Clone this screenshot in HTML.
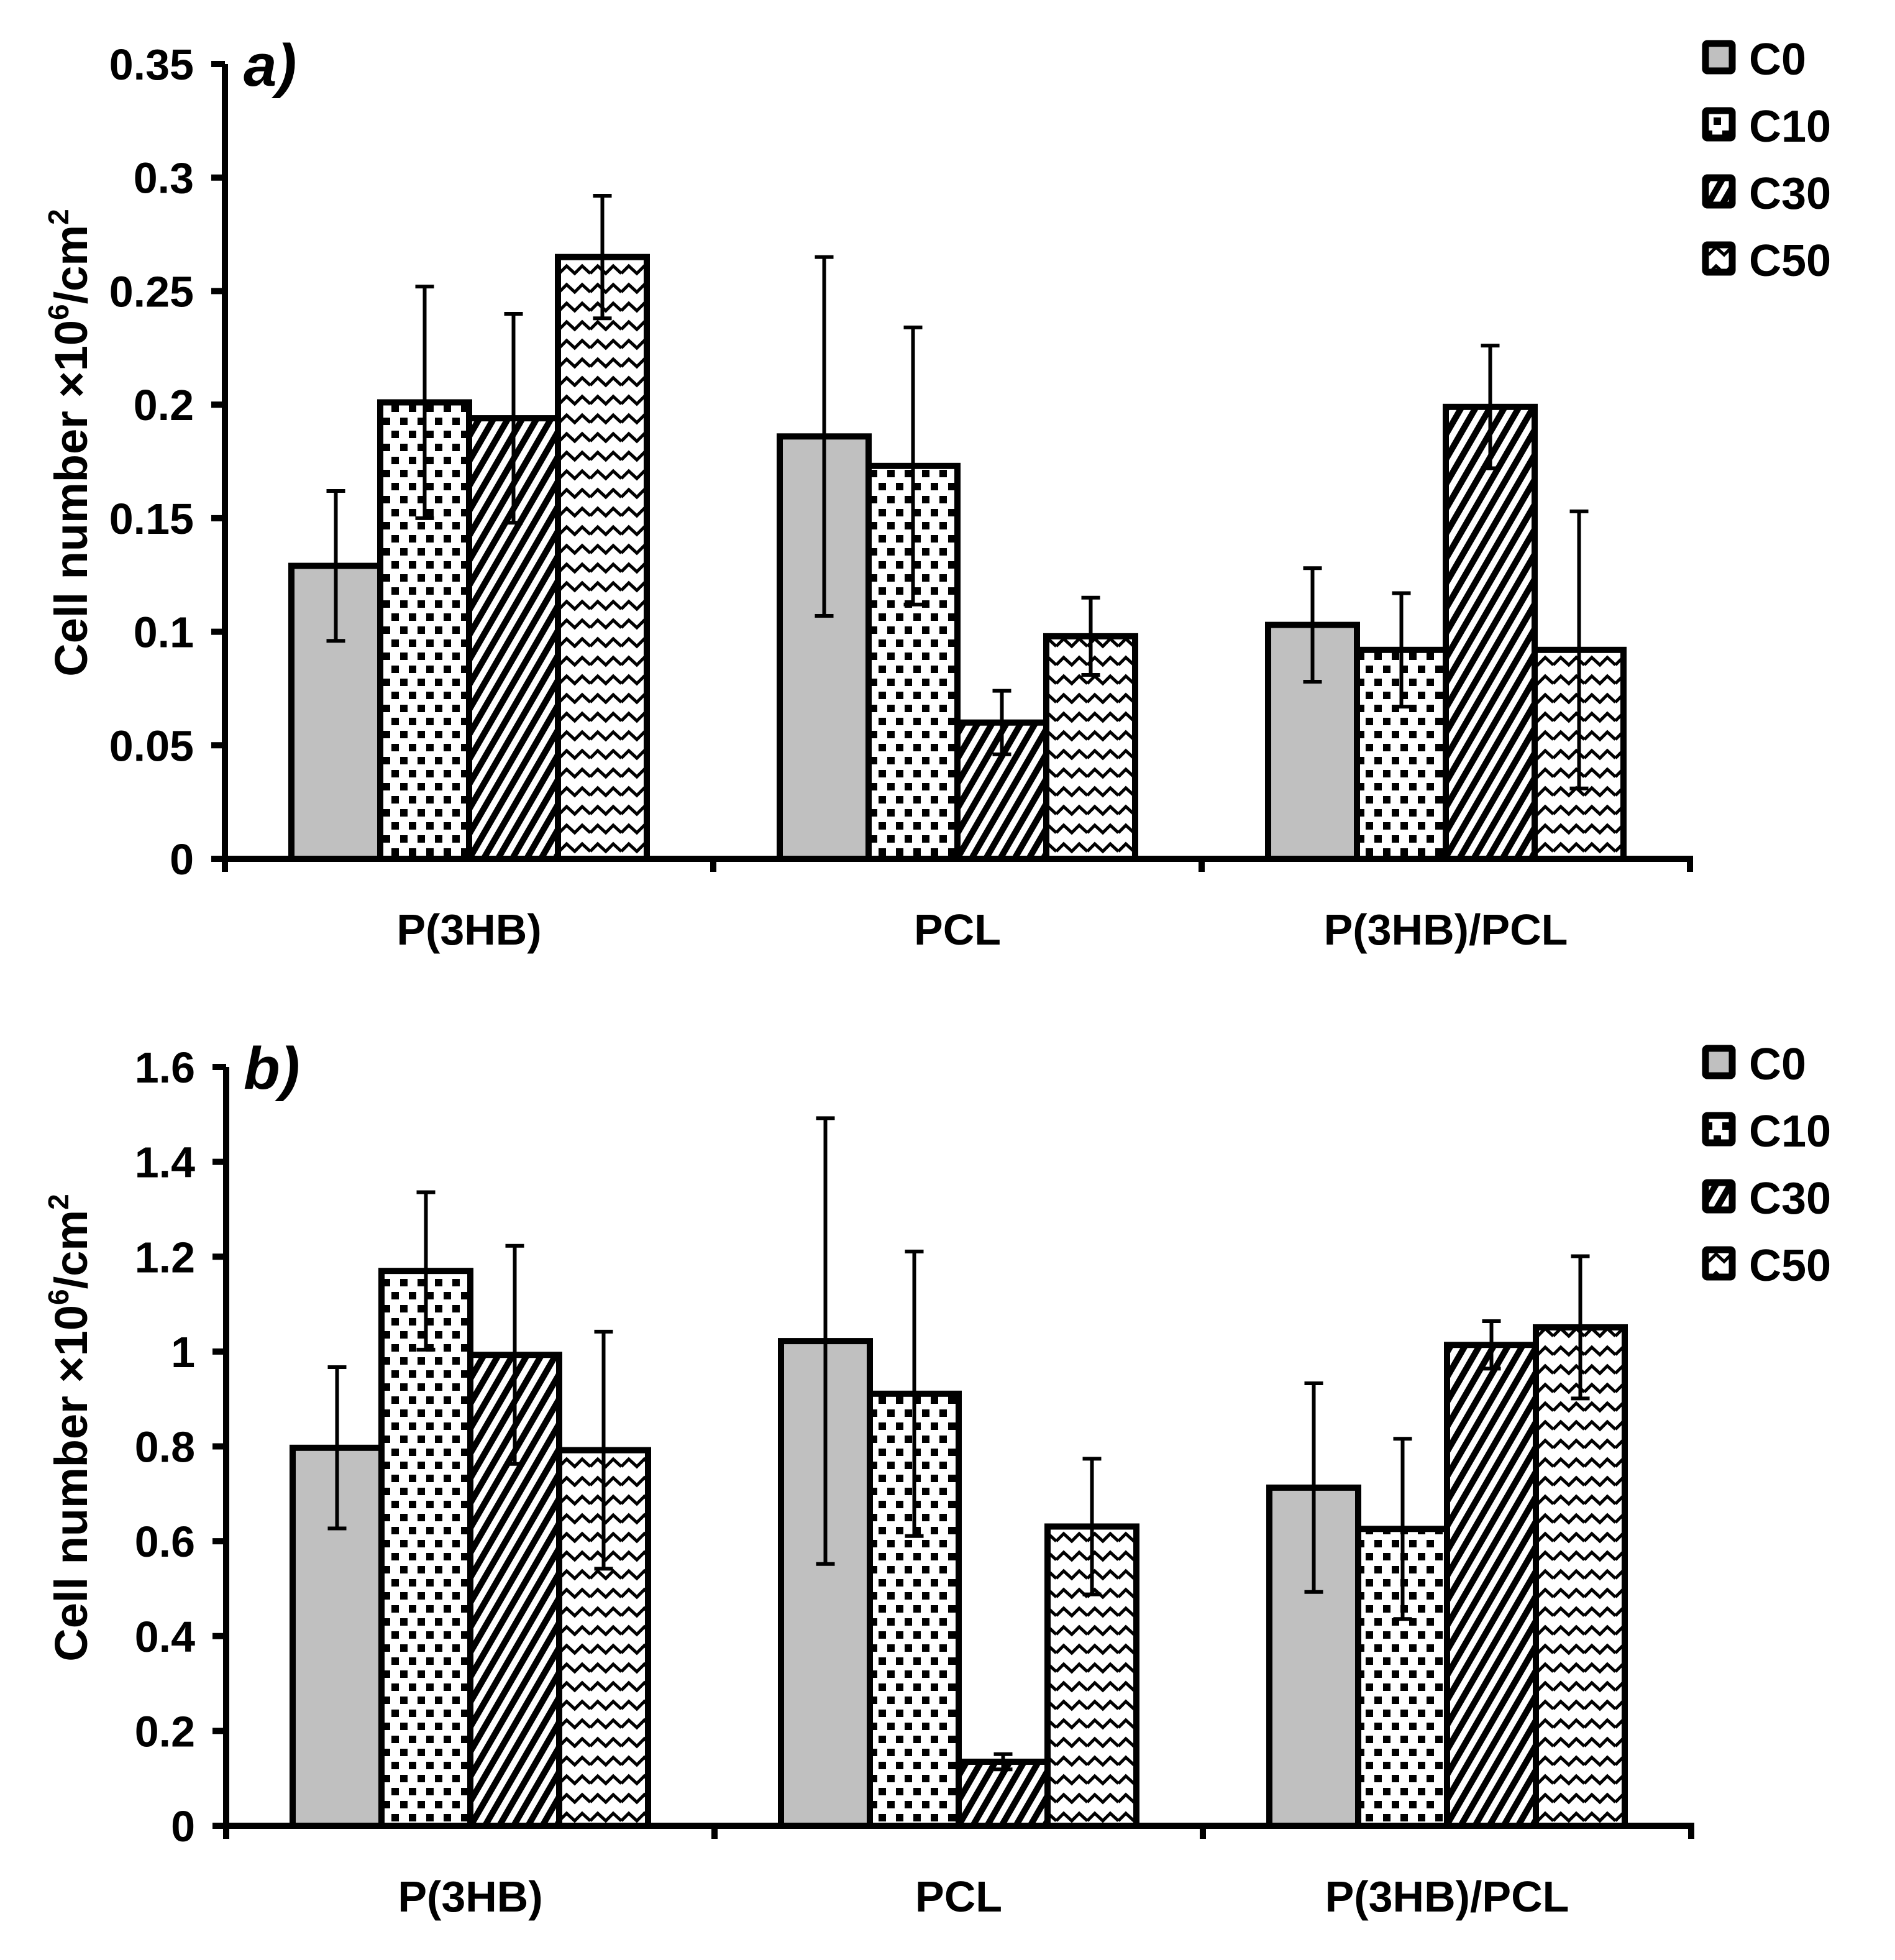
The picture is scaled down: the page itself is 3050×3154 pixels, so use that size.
<!DOCTYPE html>
<html><head><meta charset="utf-8"><style>
html,body{margin:0;padding:0;background:#fff;}
svg{display:block;font-family:"Liberation Sans",Arial,sans-serif;font-weight:bold;}
</style></head><body>
<svg id="chart" width="3050" height="3154" viewBox="0 0 3050 3154" xmlns="http://www.w3.org/2000/svg">
<defs>
<pattern id="pC10" patternUnits="userSpaceOnUse" width="28" height="42">
<rect width="28" height="42" fill="#fff"/><rect x="0" y="0" width="12" height="12" fill="#000"/><rect x="14" y="21" width="12" height="12" fill="#000"/>
</pattern>
<pattern id="pC30" patternUnits="userSpaceOnUse" width="20" height="20" patternTransform="rotate(30)">
<rect width="20" height="20" fill="#fff"/><rect x="0" y="0" width="10" height="20" fill="#000"/>
</pattern>
<pattern id="pC50" patternUnits="userSpaceOnUse" width="50" height="30">
<rect width="50" height="30" fill="#fff"/><polyline points="0,20 12,8 25,20 37,8 50,20" fill="none" stroke="#000" stroke-width="5"/>
</pattern>
</defs>
<g id="root"></g>
</svg>
<script>
const categories = ["P(3HB)", "PCL", "P(3HB)/PCL"];
const seriesNames = ["C0", "C10", "C30", "C50"];
const aValues = [[0.129,0.186,0.103],[0.201,0.173,0.092],[0.194,0.060,0.199],[0.265,0.098,0.092]];
const aErrors = [[0.033,0.079,0.025],[0.051,0.061,0.025],[0.046,0.014,0.027],[0.027,0.017,0.061]];
const aTicks = ["0","0.05","0.1","0.15","0.2","0.25","0.3","0.35"];
const bValues = [[0.797,1.022,0.713],[1.170,0.911,0.626],[0.993,0.135,1.014],[0.792,0.631,1.051]];
const bErrors = [[0.17,0.47,0.22],[0.166,0.30,0.19],[0.23,0.016,0.05],[0.25,0.143,0.15]];
const bTicks = ["0","0.2","0.4","0.6","0.8","1","1.2","1.4","1.6"];

const NS="http://www.w3.org/2000/svg";
const root=document.getElementById('root');
const fills=["#c0c0c0","url(#pC10)","url(#pC30)","url(#pC50)"];
function mk(tag,attrs,parent,text){const e=document.createElementNS(NS,tag);for(const k in attrs)e.setAttribute(k,attrs[k]);if(text!==undefined)e.textContent=text;(parent||root).appendChild(e);return e;}

function drawPanel(label,values,errors,ticks,y0,yTop,x0,x1,legendY){
  const g=mk('g',{});
  
  
  const maxV=parseFloat(ticks[ticks.length-1]);
  const yS=v=>y0-(v/maxV)*(y0-yTop);
  const catW=(x1-x0)/categories.length;
  const barW=143;
  const xS=(c,s)=>x0+c*catW+(catW-4*barW)/2+s*barW;
  for(let s=0;s<seriesNames.length;s++){
    for(let c=0;c<categories.length;c++){
      const v=values[s][c], yt=yS(v);
      const r=mk('rect',{x:xS(c,s),y:yt,width:barW,height:y0-yt,fill:fills[s],stroke:"#000","stroke-width":10},g);
      
      
    }
  }
  for(let s=0;s<seriesNames.length;s++){
    for(let c=0;c<categories.length;c++){
      const v=values[s][c], e=errors[s][c], cx=xS(c,s)+barW/2;
      const eg=mk('g',{stroke:"#000","stroke-width":6},g);
      
      
      mk('line',{x1:cx,x2:cx,y1:yS(v+e),y2:yS(v-e)},eg);
      mk('line',{x1:cx-15,x2:cx+15,y1:yS(v+e),y2:yS(v+e)},eg);
      mk('line',{x1:cx-15,x2:cx+15,y1:yS(v-e),y2:yS(v-e)},eg);
    }
  }
  const ax=mk('g',{stroke:"#000","stroke-width":10},g);
  
  
  mk('line',{x1:x0,x2:x0,y1:yTop,y2:y0+21},ax);
  mk('line',{x1:x0-22,x2:x1+5,y1:y0,y2:y0},ax);
  for(let i=0;i<ticks.length;i++){const y=yS(parseFloat(ticks[i]));mk('line',{x1:x0-22,x2:x0,y1:y,y2:y},ax);}
  for(let c=0;c<=categories.length;c++){const x=x0+c*catW;mk('line',{x1:x,x2:x,y1:y0,y2:y0+21},ax);}
  for(let i=0;i<ticks.length;i++){
    const t=mk('text',{x:x0-50,y:yS(parseFloat(ticks[i]))+25,"text-anchor":"end","font-size":70},g,ticks[i]);
    
    
  }
  for(let c=0;c<categories.length;c++){
    const t=mk('text',{x:x0+(c+0.5)*catW,y:y0+138,"text-anchor":"middle","font-size":70},g,categories[c]);
    
    
  }
  const cy=(y0+yTop)/2-30;
  const tt=mk('text',{x:0,y:0,"text-anchor":"middle","font-size":74,transform:`translate(140,${cy}) rotate(-90)`},g);
  
  
  tt.innerHTML='Cell number ×10<tspan dy="-30" font-size="46">6</tspan><tspan dy="30">/cm</tspan><tspan dy="-30" font-size="46">2</tspan>';
  const pl=mk('text',{x:392,y:yTop+35,"font-size":96,"font-style":"italic"},g,label+')');
  
  
  for(let s=0;s<seriesNames.length;s++){
    const ly=legendY+s*108;
    const lg=mk('g',{},g);
    
    
    mk('rect',{x:2745,y:ly+5,width:43,height:44,fill:fills[s],stroke:"#000","stroke-width":11,rx:3},lg);
    mk('text',{x:2815,y:ly+55,"font-size":72},lg,seriesNames[s]);
  }
}
drawPanel('a',aValues,aErrors,aTicks,1382,103,362,2720,65);
drawPanel('b',bValues,bErrors,bTicks,2938,1717,364,2722,1682);
</script>
</body></html>
